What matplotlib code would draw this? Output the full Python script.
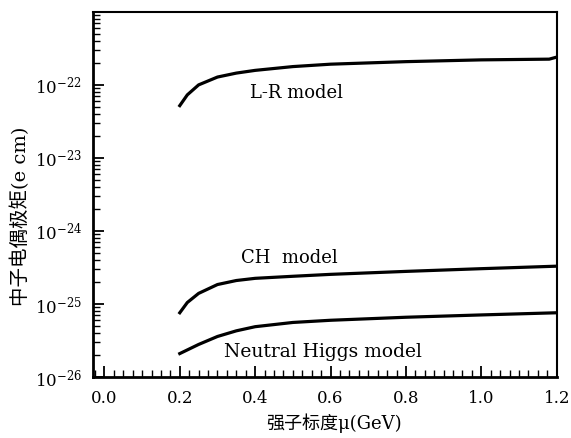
import matplotlib
matplotlib.use('Agg')
import matplotlib.pyplot as plt
import numpy as np
from matplotlib.ticker import MultipleLocator, LogLocator, NullFormatter

plt.rcParams['font.family'] = ['DejaVu Serif', 'Noto Sans CJK SC']
plt.rcParams['mathtext.fontset'] = 'dejavuserif'

# curves (mu in GeV, EDM in e cm)
mu_lr = [0.20, 0.22, 0.25, 0.30, 0.35, 0.40, 0.50, 0.60, 0.80, 1.00, 1.18, 1.20]
d_lr = [5.2e-23, 7.3e-23, 1.0e-22, 1.28e-22, 1.45e-22, 1.58e-22, 1.78e-22, 1.92e-22, 2.08e-22, 2.2e-22, 2.25e-22, 2.4e-22]

mu_ch = [0.20, 0.22, 0.25, 0.30, 0.35, 0.40, 0.50, 0.60, 0.80, 1.00, 1.20]
d_ch = [7.6e-26, 1.05e-25, 1.4e-25, 1.85e-25, 2.1e-25, 2.25e-25, 2.4e-25, 2.55e-25, 2.8e-25, 3.05e-25, 3.3e-25]

mu_nh = [0.20, 0.25, 0.30, 0.35, 0.40, 0.50, 0.60, 0.80, 1.00, 1.20]
d_nh = [2.1e-26, 2.8e-26, 3.6e-26, 4.3e-26, 4.9e-26, 5.6e-26, 6.0e-26, 6.6e-26, 7.1e-26, 7.6e-26]

xticks = [0.0, 0.2, 0.4, 0.6, 0.8, 1.0, 1.2]

fig = plt.figure(figsize=(5.71, 4.38), dpi=100)
ax = fig.add_axes([0.163, 0.139, 0.812, 0.834])

ax.plot(mu_lr, d_lr, color='black', lw=2.3)
ax.plot(mu_ch, d_ch, color='black', lw=2.3)
ax.plot(mu_nh, d_nh, color='black', lw=2.3)

ax.set_yscale('log')
ax.set_ylim(1e-26, 1e-21)
ax.set_xlim(-0.03, 1.2)

ax.text(0.51, 7.7e-23, 'L-R model', fontsize=13, ha='center', va='center')
ax.text(0.49, 4.3e-25, 'CH  model', fontsize=13, ha='center', va='center')
ax.text(0.58, 2.2e-26, 'Neutral Higgs model', fontsize=13.5, ha='center', va='center')

ax.set_xticks(xticks)
ax.set_xticklabels(['%.1f' % v for v in xticks])
ax.xaxis.set_minor_locator(MultipleLocator(0.025))
ax.set_yticks([1e-26, 1e-25, 1e-24, 1e-23, 1e-22])
ax.yaxis.set_minor_locator(LogLocator(base=10, subs=np.arange(2, 10), numticks=20))
ax.yaxis.set_minor_formatter(NullFormatter())
ax.tick_params(which='major', direction='in', length=8, width=1.3, labelsize=12)
ax.tick_params(which='minor', direction='in', length=5, width=1.0)
ax.tick_params(axis='x', pad=9)
ax.tick_params(axis='y', pad=8)

for s in ['left', 'bottom']:
    ax.spines[s].set_linewidth(2)
for s in ['top', 'right']:
    ax.spines[s].set_linewidth(1.5)

ax.set_xlabel('强子标度μ(GeV)', fontsize=13)
ax.xaxis.set_label_coords(0.52, -0.1)
ax.set_ylabel('中子电偶极矩(e cm)', fontsize=14)
ax.yaxis.set_label_coords(-0.135, 0.44)

fig.savefig('out.png', dpi=100)
